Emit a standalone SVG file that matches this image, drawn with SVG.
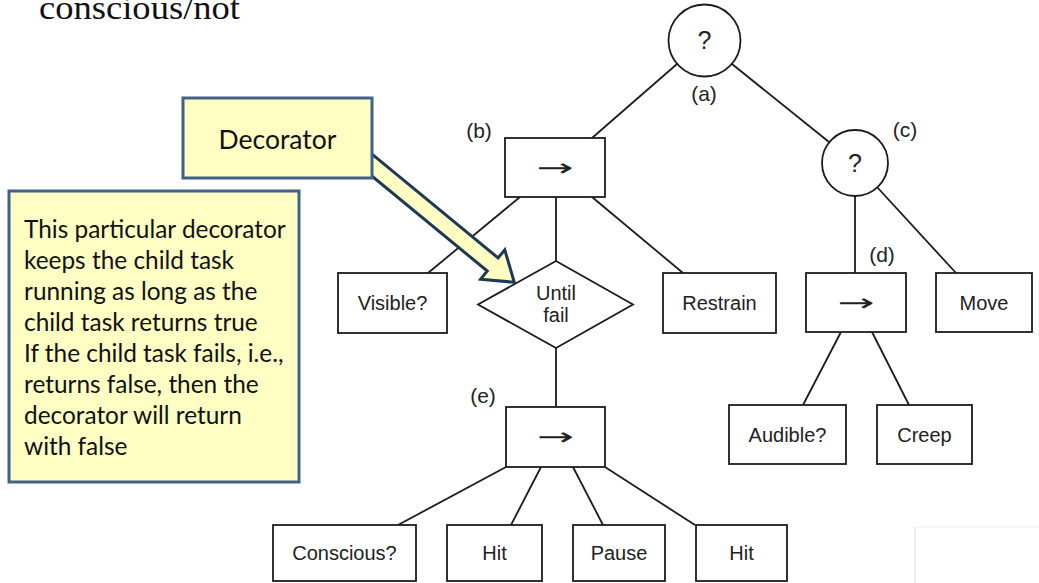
<svg xmlns="http://www.w3.org/2000/svg" width="1039" height="583" viewBox="0 0 1039 583">
  <defs>
    <style>
      .node { fill: #ffffff; stroke: #1c1c1c; stroke-width: 1.8; }
      .edge { stroke: #1c1c1c; stroke-width: 1.8; fill: none; }
      .lbl { font-family: "Liberation Sans", Arial, sans-serif; font-size: 20px; fill: #222; text-anchor: middle; }
      .tag { font-family: "Liberation Sans", Arial, sans-serif; font-size: 21px; fill: #222; text-anchor: middle; }
      .q { font-family: "Liberation Sans", Arial, sans-serif; font-size: 25px; fill: #222; text-anchor: middle; }
      .seq { font-family: "DejaVu Sans", sans-serif; font-size: 24px; fill: #222; text-anchor: middle; }
      .note { fill: #ffffc4; stroke: #41608c; stroke-width: 3; }
      .notetext { font-family: Lato, "Liberation Sans", sans-serif; font-size: 24.4px; fill: #111; }
    </style>
  </defs>

  <!-- heading fragment at the top -->
  <text x="39" y="18.5" font-family="'Liberation Serif', serif" font-size="34" fill="#111" textLength="201" lengthAdjust="spacingAndGlyphs">conscious/not</text>

  <!-- faint panel edge, bottom right -->
  <line x1="915" y1="527" x2="915" y2="583" stroke="#d6d6d6" stroke-width="1"/>
  <line x1="915" y1="527" x2="1039" y2="527" stroke="#f1f1f1" stroke-width="1"/>

  <!-- tree connectors -->
  <g id="connectors">
    <line class="edge" x1="677" y1="64" x2="592" y2="138"/>
    <line class="edge" x1="732" y1="64" x2="829" y2="142"/>
    <line class="edge" x1="520" y1="197" x2="428" y2="273"/>
    <line class="edge" x1="556" y1="197" x2="556" y2="261"/>
    <line class="edge" x1="592" y1="197" x2="683" y2="273"/>
    <line class="edge" x1="855" y1="196" x2="855" y2="273"/>
    <line class="edge" x1="877" y1="187" x2="956" y2="273"/>
    <line class="edge" x1="841" y1="332" x2="803" y2="405"/>
    <line class="edge" x1="872" y1="332" x2="909" y2="405"/>
    <line class="edge" x1="556" y1="348" x2="556" y2="407"/>
    <line class="edge" x1="506" y1="467" x2="398" y2="525"/>
    <line class="edge" x1="541" y1="467" x2="511" y2="525"/>
    <line class="edge" x1="573" y1="467" x2="603" y2="525"/>
    <line class="edge" x1="605" y1="467" x2="695" y2="525"/>
  </g>

  <!-- (a) root selector -->
  <g id="node-a">
    <circle class="node" cx="704.5" cy="40.5" r="36"/>
    <text class="q" x="704.5" y="49">?</text>
    <text class="tag" x="704" y="101">(a)</text>
  </g>

  <!-- (b) sequence -->
  <g id="node-b">
    <rect class="node" x="505" y="138" width="100" height="59"/>
    <text class="seq" x="555" y="176" textLength="37" lengthAdjust="spacingAndGlyphs">→</text>
    <text class="tag" x="479" y="138">(b)</text>
  </g>

  <!-- (c) selector -->
  <g id="node-c">
    <circle class="node" cx="855" cy="163" r="33"/>
    <text class="q" x="855" y="172">?</text>
    <text class="tag" x="905" y="137">(c)</text>
  </g>

  <g id="node-visible">
    <rect class="node" x="338" y="273" width="109" height="60"/>
    <text class="lbl" x="392.5" y="310">Visible?</text>
  </g>

  <g id="node-until-fail">
    <polygon class="node" points="556,261 633,304.5 556,348 478,304.5"/>
    <text class="lbl" x="556" y="300">Until</text>
    <text class="lbl" x="556" y="322">fail</text>
  </g>

  <g id="node-restrain">
    <rect class="node" x="663" y="273" width="113" height="60"/>
    <text class="lbl" x="719.5" y="310">Restrain</text>
  </g>

  <!-- (d) sequence -->
  <g id="node-d">
    <rect class="node" x="806" y="273" width="100" height="59"/>
    <text class="seq" x="856" y="311" textLength="37" lengthAdjust="spacingAndGlyphs">→</text>
    <text class="tag" x="882" y="262">(d)</text>
  </g>

  <g id="node-move">
    <rect class="node" x="936" y="273" width="96" height="59"/>
    <text class="lbl" x="984" y="310">Move</text>
  </g>

  <g id="node-audible">
    <rect class="node" x="729" y="405" width="117" height="59"/>
    <text class="lbl" x="787.5" y="442">Audible?</text>
  </g>

  <g id="node-creep">
    <rect class="node" x="877" y="405" width="95" height="59"/>
    <text class="lbl" x="924.5" y="442">Creep</text>
  </g>

  <!-- (e) sequence -->
  <g id="node-e">
    <rect class="node" x="506" y="407" width="99" height="60"/>
    <text class="seq" x="555.5" y="445" textLength="37" lengthAdjust="spacingAndGlyphs">→</text>
    <text class="tag" x="483" y="403">(e)</text>
  </g>

  <g id="node-conscious">
    <rect class="node" x="273" y="525" width="143" height="56"/>
    <text class="lbl" x="344.5" y="560">Conscious?</text>
  </g>

  <g id="node-hit1">
    <rect class="node" x="447" y="525" width="95" height="56"/>
    <text class="lbl" x="494.5" y="560">Hit</text>
  </g>

  <g id="node-pause">
    <rect class="node" x="573" y="525" width="92" height="56"/>
    <text class="lbl" x="619" y="560">Pause</text>
  </g>

  <g id="node-hit2">
    <rect class="node" x="696" y="525" width="91" height="56"/>
    <text class="lbl" x="741.5" y="560">Hit</text>
  </g>

  <!-- callout: block arrow from the label to the decorator node -->
  <g id="callout-arrow">
    <path transform="translate(373,166) rotate(39.45)" d="M -15,-8.5 L 155,-8.5 L 155,-19 L 183,0 L 155,19 L 155,8.5 L -15,8.5 Z" fill="#ffffc4" stroke="#1e3858" stroke-width="3" stroke-linejoin="miter"/>
  </g>

  <g id="callout-label">
    <rect class="note" x="183" y="98" width="189" height="80"/>
    <text x="277.5" y="149" font-family="Lato, 'Liberation Sans', sans-serif" font-size="26.5" fill="#111" text-anchor="middle">Decorator</text>
  </g>

  <g id="callout-note">
    <rect class="note" x="9" y="191" width="290" height="291"/>
    <text class="notetext" x="24" y="238">This particular decorator</text>
    <text class="notetext" x="24" y="269">keeps the child task</text>
    <text class="notetext" x="24" y="300">running as long as the</text>
    <text class="notetext" x="24" y="331">child task returns true</text>
    <text class="notetext" x="24" y="362">If the child task fails, i.e.,</text>
    <text class="notetext" x="24" y="393">returns false, then the</text>
    <text class="notetext" x="24" y="424">decorator will return</text>
    <text class="notetext" x="24" y="455">with false</text>
  </g>
</svg>
